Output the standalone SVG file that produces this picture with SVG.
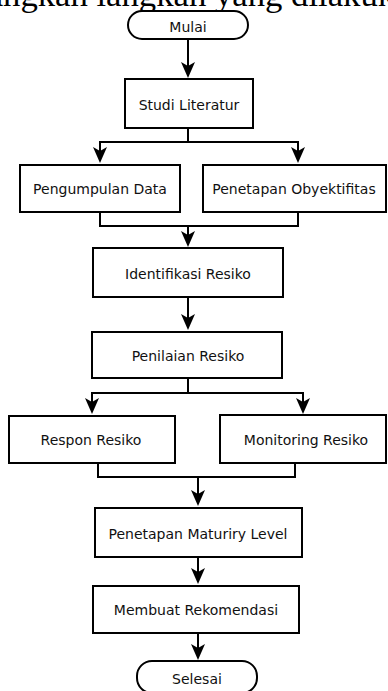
<svg xmlns="http://www.w3.org/2000/svg" width="388" height="691" viewBox="0 0 388 691">
<style>
.n{fill:#fff;stroke:#000;stroke-width:2}
.t{font-family:"DejaVu Sans",sans-serif;font-size:14px;fill:#111;text-anchor:middle;dominant-baseline:central}
.c{fill:none;stroke:#000;stroke-width:2}
.h{font-family:"Liberation Serif",serif;font-size:34.7px;fill:#000}
</style>
<defs>
<marker id="a" viewBox="0 0 16 14" refX="10" refY="7" markerWidth="16" markerHeight="14" markerUnits="userSpaceOnUse" orient="auto">
<path d="M0,0 L16,7 L0,14 L4,7 Z" fill="#000"/>
</marker>
</defs>
<text class="h" x="-22" y="6">langkah langkah yang dilakukan</text>
<g id="connectors">
<path class="c" d="M188,39 V72" marker-end="url(#a)"/>
<path class="c" d="M188,128 V142 H100 V157" marker-end="url(#a)"/>
<path class="c" d="M188,142 H298 V157" marker-end="url(#a)"/>
<path class="c" d="M100,212 V226 H298 V212"/>
<path class="c" d="M188,226 V241" marker-end="url(#a)"/>
<path class="c" d="M188,297 V324" marker-end="url(#a)"/>
<path class="c" d="M188,378 V393 H92 V408" marker-end="url(#a)"/>
<path class="c" d="M188,393 H303 V408" marker-end="url(#a)"/>
<path class="c" d="M98,463 V477 H295 V463"/>
<path class="c" d="M198,477 V500" marker-end="url(#a)"/>
<path class="c" d="M198,557 V578" marker-end="url(#a)"/>
<path class="c" d="M198,633 V654" marker-end="url(#a)"/>
</g>
<g id="mulai"><rect class="n" x="128" y="11" width="120" height="28" rx="14"/><text class="t" x="188" y="27">Mulai</text></g>
<g id="studi"><rect class="n" x="125" y="79" width="128" height="49"/><text class="t" x="189" y="105">Studi Literatur</text></g>
<g id="pengumpulan"><rect class="n" x="20" y="165" width="160" height="47"/><text class="t" x="100" y="189">Pengumpulan Data</text></g>
<g id="penetapan-obyektifitas"><rect class="n" x="203" y="165" width="183" height="47"/><text class="t" x="294" y="189">Penetapan Obyektifitas</text></g>
<g id="identifikasi"><rect class="n" x="93" y="248" width="190" height="49"/><text class="t" x="188" y="274">Identifikasi Resiko</text></g>
<g id="penilaian"><rect class="n" x="92" y="332" width="190" height="46"/><text class="t" x="188" y="356">Penilaian Resiko</text></g>
<g id="respon"><rect class="n" x="9" y="416" width="166" height="47"/><text class="t" x="91" y="440">Respon Resiko</text></g>
<g id="monitoring"><rect class="n" x="220" y="415" width="166" height="48"/><text class="t" x="306" y="440">Monitoring Resiko</text></g>
<g id="maturity"><rect class="n" x="95" y="508" width="207" height="49"/><text class="t" x="198" y="534">Penetapan Maturiry Level</text></g>
<g id="rekomendasi"><rect class="n" x="93" y="586" width="206" height="47"/><text class="t" x="196" y="610">Membuat Rekomendasi</text></g>
<g id="selesai"><rect class="n" x="137" y="661" width="120" height="32" rx="15"/><text class="t" x="197" y="679">Selesai</text></g>
</svg>
